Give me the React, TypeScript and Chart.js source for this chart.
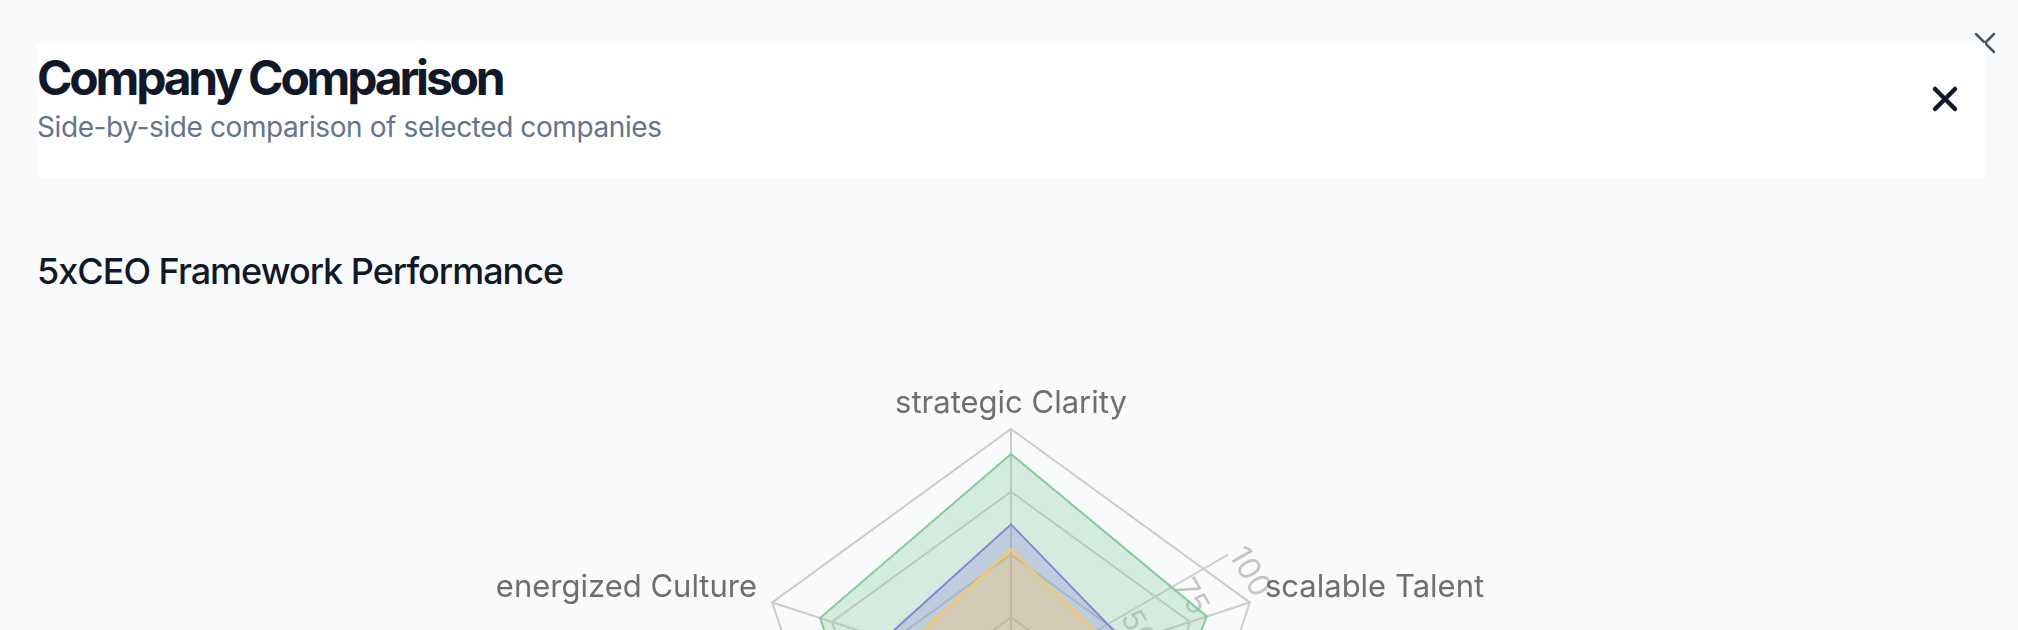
import React, { useEffect, useRef } from "react";
import { Chart, registerables } from "chart.js";

Chart.register(...registerables);

// ---- data ----
const axisLabels = [
  "strategic Clarity",
  "scalable Talent",
  "relentless Execution",
  "financial Discipline",
  "energized Culture",
];
const seriesNames = ["Company A", "Company B", "Company C"];
const companyAScores = [90, 82, 76, 78, 80];
const companyBScores = [62, 48, 55, 50, 53];
const companyCScores = [52, 42, 45, 40, 44];
const radiusTicks = [0, 25, 50, 75, 100];
const seriesColors = ["#82ca9d", "#8884d8", "#ffc658"];
const seriesFills = [
  "rgba(130,202,157,0.3)",
  "rgba(136,132,216,0.3)",
  "rgba(255,198,88,0.3)",
];

const FONT = "Inter, 'Noto Sans', sans-serif";

const polarDecor = {
  id: "polarDecor",
  beforeDatasetsDraw(chart: any) {
    const s: any = chart.scales.r;
    const ctx: CanvasRenderingContext2D = chart.ctx;
    const ang = Math.PI / 3; // radius axis at 60deg clockwise from top
    ctx.save();
    const end = s.getPointPosition(0, s.getDistanceFromCenterForValue(radiusTicks[radiusTicks.length - 1]), ang);
    ctx.strokeStyle = "#cccccc";
    ctx.lineWidth = 2;
    ctx.beginPath();
    ctx.moveTo(s.xCenter, s.yCenter);
    ctx.lineTo(end.x, end.y);
    ctx.stroke();
    ctx.font = `31px ${FONT}`;
    ctx.fillStyle = "#c4c4c4";
    ctx.textAlign = "left";
    ctx.textBaseline = "alphabetic";
    radiusTicks.forEach((v) => {
      const p = s.getPointPosition(0, s.getDistanceFromCenterForValue(v), ang);
      ctx.save();
      ctx.translate(p.x, p.y);
      ctx.rotate(ang);
      ctx.fillText(String(v), 0, 0);
      ctx.restore();
    });
    ctx.restore();
  },
  afterDraw(chart: any) {
    const s: any = chart.scales.r;
    const ctx: CanvasRenderingContext2D = chart.ctx;
    ctx.save();
    ctx.font = `31px ${FONT}`;
    ctx.fillStyle = "#6e6e6e";
    ctx.textBaseline = "alphabetic";
    axisLabels.forEach((lab, i) => {
      const p = s.getPointPosition(i, s.drawingArea + 16);
      const c = Math.cos(p.angle);
      ctx.textAlign = c > 1e-5 ? "left" : c < -1e-5 ? "right" : "center";
      ctx.fillText(lab, p.x, p.y);
    });
    ctx.restore();
  },
};

function RadarChart() {
  const ref = useRef<HTMLCanvasElement | null>(null);
  useEffect(() => {
    if (!ref.current) return;
    const allScores = [companyAScores, companyBScores, companyCScores];
    const chart = new Chart(ref.current, {
      type: "radar",
      data: {
        labels: axisLabels,
        datasets: allScores.map((d, i) => ({
          label: seriesNames[i],
          data: d,
          borderColor: seriesColors[i],
          backgroundColor: seriesFills[i],
          borderWidth: 2,
          pointRadius: 0,
          pointHoverRadius: 0,
          fill: true,
          tension: 0,
          order: 3 - i,
        })),
      },
      options: {
        responsive: false,
        animation: false,
        devicePixelRatio: 1,
        layout: { padding: { left: 4, right: 0, top: 129, bottom: 269 } },
        plugins: { legend: { display: false }, tooltip: { enabled: false } },
        scales: {
          r: {
            min: 0,
            max: 100,
            startAngle: 0,
            ticks: { display: false, stepSize: 25 },
            pointLabels: { display: false },
            grid: { color: "#cccccc", lineWidth: 2 },
            angleLines: { color: "#cccccc", lineWidth: 2 },
          },
        },
      },
      plugins: [polarDecor],
    } as any);
    return () => chart.destroy();
  }, []);
  return (
    <canvas
      ref={ref}
      width={2018}
      height={900}
      style={{ position: "absolute", left: 0, top: 300, width: 2018, height: 900 }}
    />
  );
}

export default function App() {
  return (
    <div
      style={{
        position: "absolute",
        left: 0,
        top: 0,
        width: 2018,
        height: 630,
        overflow: "hidden",
        background: "#f8fafc",
        fontFamily: FONT,
      }}
    >
      <svg
        width={30}
        height={30}
        style={{ position: "absolute", left: 1970, top: 28 }}
        viewBox="1970 28 30 30"
      >
        <line x1={1976} y1={34} x2={1994} y2={52} stroke="#4b5563" strokeWidth={2.5} strokeLinecap="round" />
        <line x1={1994} y1={34} x2={1976} y2={52} stroke="#4b5563" strokeWidth={2.5} strokeLinecap="round" />
      </svg>
      <div
        style={{
          position: "absolute",
          left: 37,
          top: 43,
          width: 1948,
          height: 135,
          background: "#ffffff",
        }}
      />
      <div
        style={{
          position: "absolute",
          left: 37,
          top: 54,
          fontSize: 48,
          lineHeight: "48px",
          fontWeight: 700,
          color: "#111827",
          letterSpacing: "-3.2px",
          whiteSpace: "nowrap",
        }}
      >
        Company Comparison
      </div>
      <div
        style={{
          position: "absolute",
          left: 37,
          top: 113,
          fontSize: 28,
          lineHeight: "28px",
          fontWeight: 400,
          color: "#64748b",
          letterSpacing: "-0.4px",
          whiteSpace: "nowrap",
        }}
      >
        Side-by-side comparison of selected companies
      </div>
      <svg
        width={40}
        height={40}
        style={{ position: "absolute", left: 1925, top: 79 }}
        viewBox="1925 79 40 40"
      >
        <line x1={1935} y1={89} x2={1955} y2={109} stroke="#111827" strokeWidth={4.5} strokeLinecap="round" />
        <line x1={1955} y1={89} x2={1935} y2={109} stroke="#111827" strokeWidth={4.5} strokeLinecap="round" />
      </svg>
      <div
        style={{
          position: "absolute",
          left: 37,
          top: 253,
          fontSize: 36,
          lineHeight: "36px",
          fontWeight: 500,
          color: "#111827",
          letterSpacing: "-1px",
          whiteSpace: "nowrap",
        }}
      >
        5xCEO Framework Performance
      </div>
      <RadarChart />
    </div>
  );
}
